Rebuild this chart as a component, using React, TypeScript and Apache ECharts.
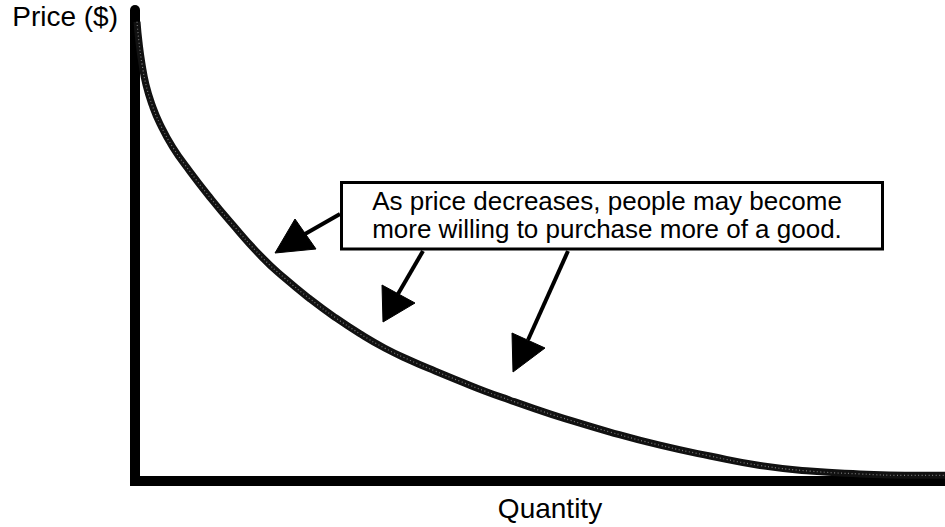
import React, { useEffect, useRef } from "react";
import * as echarts from "echarts";

// Demand curve (quantity 0–100, price 0–100)
const quantity = [0.25, 0.49, 0.86, 1.36, 2.1, 3.09, 4.69, 6.79, 9.26, 11.73, 15.68, 18.52, 21.6, 24.69, 27.78, 30.86, 33.95, 37.04, 40.12, 43.21, 46.3, 49.38, 52.47, 58.64, 64.81, 70.99, 77.16, 83.33, 89.51, 95.06, 100];
const price = [97.5, 93.2, 88.6, 84.1, 79.9, 75.8, 70.8, 65.7, 60.2, 55.1, 47.5, 43.0, 38.67, 34.75, 31.25, 28.18, 25.64, 23.35, 21.19, 19.07, 17.16, 15.32, 13.56, 10.4, 7.6, 5.3, 3.3, 2.1, 1.5, 1.2, 1.2];

const yAxisName = "Price ($)";
const xAxisName = "Quantity";
const noteLines = ["As price decreases, people may become", "more willing to purchase more of a good."];

const FONT = "'Liberation Sans', Arial, Helvetica, sans-serif";

export default function App() {
  const ref = useRef<HTMLDivElement>(null);

  useEffect(() => {
    if (!ref.current) return;
    const chart = echarts.init(ref.current, undefined, { renderer: "svg" });
    const pts = quantity.map((q, i) => [q, price[i]]);

    const arrow = (x1: number, y1: number, x2: number, y2: number, tri: number[][]) => [
      {
        type: "line",
        z: 10,
        shape: { x1, y1, x2, y2 },
        style: { stroke: "#000", lineWidth: 4 },
      },
      {
        type: "polygon",
        z: 10,
        shape: { points: tri },
        style: { fill: "#000", stroke: "#000", lineWidth: 1, lineJoin: "round" },
      },
    ];

    chart.setOption({
      animation: false,
      backgroundColor: "#fff",
      grid: { left: 135, right: 0, top: 10, bottom: 45, containLabel: false },
      xAxis: {
        type: "value",
        min: 0,
        max: 100,
        name: xAxisName,
        nameLocation: "middle",
        nameGap: 13,
        nameTextStyle: { fontSize: 28, color: "#000", fontFamily: FONT, padding: [0, 0, 0, 20], verticalAlign: "top" },
        axisLine: { show: true, lineStyle: { color: "#000", width: 10, cap: "square" } },
        axisTick: { show: false },
        axisLabel: { show: false },
        splitLine: { show: false },
      },
      yAxis: {
        type: "value",
        min: 0,
        max: 100,
        name: yAxisName,
        nameLocation: "end",
        nameGap: 8,
        nameTextStyle: { fontSize: 28, color: "#000", fontFamily: FONT, align: "right", verticalAlign: "top", padding: [0, 17, 0, 0] },
        axisLine: { show: true, lineStyle: { color: "#000", width: 10, cap: "round" } },
        axisTick: { show: false },
        axisLabel: { show: false },
        splitLine: { show: false },
      },
      series: [
        {
          type: "line",
          data: pts,
          smooth: 0.5,
          showSymbol: false,
          symbol: "none",
          lineStyle: { color: "#111", width: 7 },
          z: 3,
        },
        {
          type: "line",
          data: pts,
          smooth: 0.5,
          showSymbol: false,
          symbol: "none",
          lineStyle: { color: "#7a7a7a", width: 1.2, type: [1, 2.5] },
          z: 4,
          silent: true,
        },
      ],
      graphic: [
        ...arrow(340, 214, 305, 234, [[275, 253], [295, 219], [316, 249]]),
        ...arrow(423, 251, 398, 294, [[383, 322], [382, 285], [415, 303]]),
        ...arrow(568, 251, 528, 340, [[513, 372], [512, 333], [545, 348]]),
        {
          type: "rect",
          z: 11,
          shape: { x: 341.5, y: 182.5, width: 541, height: 66.5 },
          style: { fill: "#fff", stroke: "#000", lineWidth: 3 },
        },
        ...noteLines.map((t, i) => ({
          type: "text",
          z: 12,
          x: 607,
          y: 201 + i * 28,
          style: {
            text: t,
            fill: "#000",
            fontSize: 26,
            fontFamily: FONT,
            align: "center",
            verticalAlign: "middle",
          },
        })),
      ],
    });
    return () => chart.dispose();
  }, []);

  return <div ref={ref} style={{ position: "fixed", left: 0, top: 0, width: 945, height: 527 }} />;
}
